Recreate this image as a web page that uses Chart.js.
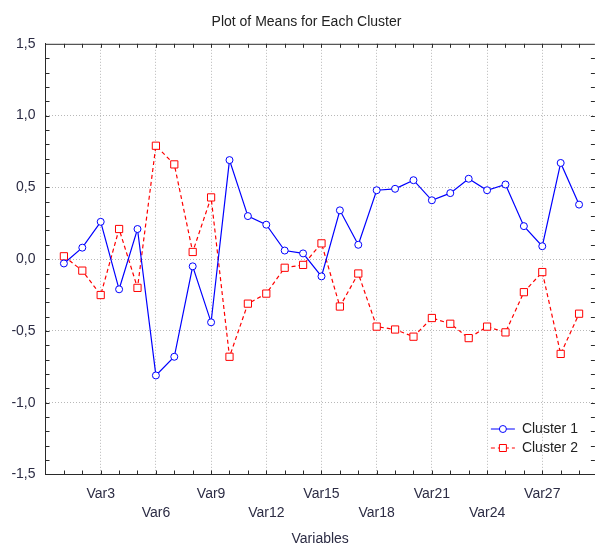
<!DOCTYPE html>
<html>
<head>
<meta charset="utf-8">
<script src="https://cdn.jsdelivr.net/npm/chart.js@4"></script>
<style>
  html, body { margin:0; padding:0; background:#fff; }
  #wrap { width:601px; height:545px; }
</style>
</head>
<body>
<div id="wrap"><canvas id="c"></canvas></div>
<script>
/* ── Data ─────────────────────────────────────────────────────────── */
const categories = ['Var1','Var2','Var3','Var4','Var5','Var6','Var7','Var8','Var9','Var10',
  'Var11','Var12','Var13','Var14','Var15','Var16','Var17','Var18','Var19','Var20',
  'Var21','Var22','Var23','Var24','Var25','Var26','Var27','Var28','Var29'];
const cluster1 = [-0.03, 0.08, 0.26, -0.21, 0.21, -0.81, -0.68, -0.05, -0.44, 0.69,
  0.30, 0.24, 0.06, 0.04, -0.12, 0.34, 0.10, 0.48, 0.49, 0.55,
  0.41, 0.46, 0.56, 0.48, 0.52, 0.23, 0.09, 0.67, 0.38];
const cluster2 = [0.02, -0.08, -0.25, 0.21, -0.20, 0.79, 0.66, 0.05, 0.43, -0.68,
  -0.31, -0.24, -0.06, -0.04, 0.11, -0.33, -0.10, -0.47, -0.49, -0.54,
  -0.41, -0.45, -0.55, -0.47, -0.51, -0.23, -0.09, -0.66, -0.38];
const seriesNames = ['Cluster 1', 'Cluster 2'];
const yTicks = [-1.5, -1.0, -0.5, 0.0, 0.5, 1.0, 1.5];

/* ── Style helpers ───────────────────────────────────────────────── */
const FONT = 'Liberation Sans, Arial, sans-serif';
const TXT  = '#2c2c44';
const GRID = '#b8b8b8';
const AXIS = '#2a2a2a';
const fmtComma = v => v.toFixed(1).replace('.', ',');
const toPts = arr => arr.map((v, i) => ({ x: i + 1, y: v }));

/* inward tick marks + top frame line, drawn through the scales */
const frameTicks = {
  id: 'frameTicks',
  afterDraw(chart) {
    const { ctx, chartArea: a, scales: { x, y } } = chart;
    ctx.save();
    ctx.strokeStyle = AXIS; ctx.lineWidth = 1;
    ctx.beginPath();
    ctx.moveTo(a.left, a.top + 0.5); ctx.lineTo(a.right, a.top + 0.5);
    categories.forEach((c, i) => {
      const px = Math.round(x.getPixelForValue(i + 1)) + 0.5;
      ctx.moveTo(px, a.bottom); ctx.lineTo(px, a.bottom - 4);
      ctx.moveTo(px, a.top);    ctx.lineTo(px, a.top + 4);
    });
    for (let k = -14; k <= 14; k++) {
      const py = Math.round(y.getPixelForValue(k / 10)) + 0.5;
      ctx.moveTo(a.left, py);  ctx.lineTo(a.left + 4, py);
      ctx.moveTo(a.right, py); ctx.lineTo(a.right - 4, py);
    }
    ctx.stroke();
    ctx.restore();
  }
};

/* legend box in lower right of plot */
const cornerLegend = {
  id: 'cornerLegend',
  afterDraw(chart) {
    const { ctx, chartArea: a } = chart;
    ctx.save();
    ctx.font = '14px ' + FONT;
    ctx.textBaseline = 'middle';
    chart.data.datasets.forEach((ds, i) => {
      const cy = a.bottom - 46 + i * 19;
      const x0 = a.right - 104, x1 = a.right - 80, mx = (x0 + x1) / 2;
      ctx.strokeStyle = ds.borderColor; ctx.lineWidth = 1;
      ctx.setLineDash(ds.borderDash || []);
      ctx.beginPath(); ctx.moveTo(x0, cy + 0.5); ctx.lineTo(x1, cy + 0.5); ctx.stroke();
      ctx.setLineDash([]);
      ctx.fillStyle = '#fff';
      ctx.beginPath();
      if (ds.pointStyle === 'rect') ctx.rect(mx - 3.5, cy - 3, 7, 7);
      else ctx.arc(mx, cy + 0.5, 3.5, 0, Math.PI * 2);
      ctx.fill(); ctx.stroke();
      ctx.fillStyle = '#222';
      ctx.fillText(ds.label, x1 + 7, cy + 1);
    });
    ctx.restore();
  }
};

new Chart(document.getElementById('c'), {
  type: 'line',
  data: {
    datasets: [
      { label: seriesNames[0], data: toPts(cluster1), borderColor: '#0000ff', borderWidth: 1.2,
        pointStyle: 'circle', pointRadius: 3.5, pointBackgroundColor: '#fff',
        pointBorderColor: '#0000ff', pointBorderWidth: 1, tension: 0 },
      { label: seriesNames[1], data: toPts(cluster2), borderColor: '#ff0000', borderWidth: 1.2,
        borderDash: [4, 3], pointStyle: 'rect', pointRadius: 5.1, pointBackgroundColor: '#fff',
        pointBorderColor: '#ff0000', pointBorderWidth: 1, tension: 0 }
    ]
  },
  options: {
    responsive: true, maintainAspectRatio: false, animation: false,
    layout: { padding: { left: 12, right: 0, top: 0, bottom: 0 } },
    scales: {
      x: {
        type: 'linear', min: 0, max: 29.86,
        afterFit: s => { s.height = 70.5; },
        afterBuildTicks: s => { s.ticks = categories.map((c, i) => ({ value: i + 1 })); },
        grid: { drawTicks: false,
          color: c => (c.tick && c.tick.value % 3 === 0) ? GRID : 'transparent' },
        border: { display: true, color: AXIS, width: 1, dash: [1, 2] },
        ticks: {
          autoSkip: false, maxRotation: 0, padding: 10, color: TXT,
          font: { family: FONT, size: 14, lineHeight: 19 / 14 },
          callback: v => {
            if (v % 3 !== 0) return '';
            const name = categories[v - 1];
            return (v / 3) % 2 === 1 ? [name, ''] : ['', name];
          }
        },
        title: { display: true, text: 'Variables', color: TXT,
          font: { family: FONT, size: 14 }, padding: { top: 0, bottom: -3 } }
      },
      y: {
        min: -1.5, max: 1.5,
        afterFit: s => { s.width = 33.5; },
        afterBuildTicks: s => { s.ticks = yTicks.map(v => ({ value: v })); },
        grid: { drawTicks: false,
          color: c => (c.tick && Math.abs(c.tick.value) < 1.4) ? GRID : 'transparent' },
        border: { display: true, color: AXIS, width: 1, dash: [1, 2] },
        ticks: { padding: 10, color: TXT, font: { family: FONT, size: 14 },
          callback: v => fmtComma(v) }
      }
    },
    plugins: {
      legend: { display: false },
      tooltip: { enabled: false },
      title: { display: true, text: 'Plot of Means for Each Cluster', color: '#222',
        font: { family: FONT, size: 14, weight: 'normal' }, padding: { top: 14, bottom: 13 } }
    }
  },
  plugins: [frameTicks, cornerLegend]
});
</script>
</body>
</html>
